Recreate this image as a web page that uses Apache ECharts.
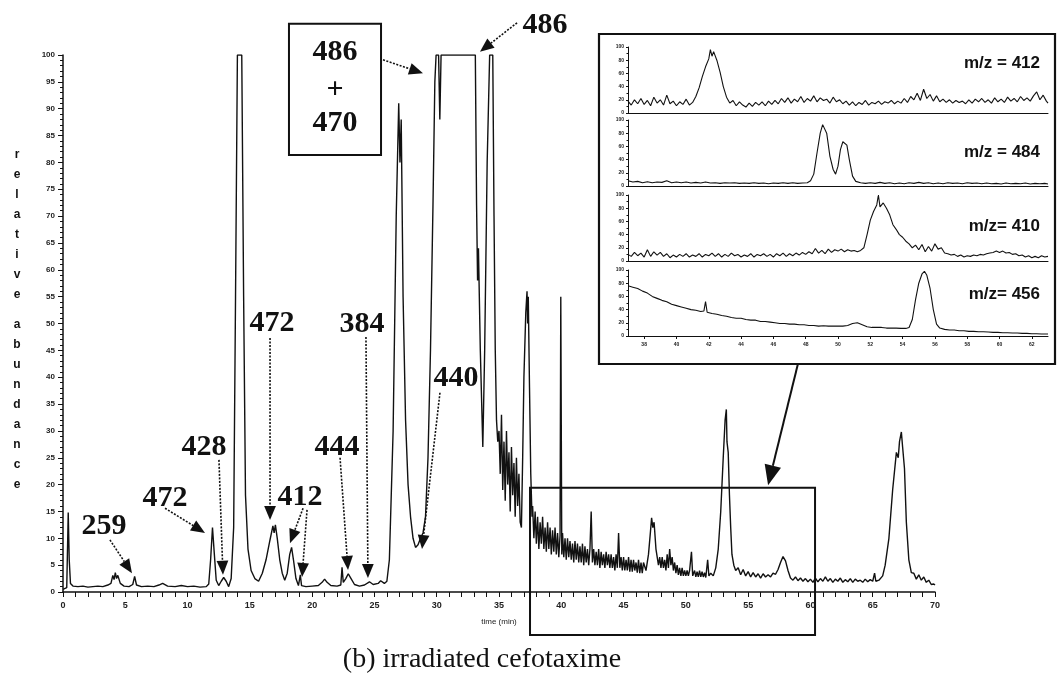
<!DOCTYPE html>
<html>
<head>
<meta charset="utf-8">
<title>(b) irradiated cefotaxime</title>
<script src="https://cdn.jsdelivr.net/npm/echarts@6/dist/echarts.min.js"></script>
<style>
  html, body { margin: 0; padding: 0; background: #fff; }
  #chart { width: 1058px; height: 679px; }
</style>
</head>
<body>
<div id="chart"></div>
<script>
// total ion current, [time (min), relative abundance]
var mainTrace = [
  [0,0.5],[0.3,0.8],[0.42,14.8],[0.5,6],[0.6,1.6],[0.8,1.1],[1.2,1.0],[1.6,1.1],[2.0,0.9],[2.4,1.0],
  [2.8,1.1],[3.2,1.0],[3.6,1.3],[3.85,1.6],[4.0,3.1],[4.1,2.3],[4.2,3.6],[4.3,2.5],[4.4,3.1],[4.6,1.6],
  [4.9,1.1],[5.3,1.0],[5.6,1.4],[5.75,2.9],[5.9,1.3],[6.3,1.0],[6.8,1.1],[7.3,1.0],[7.7,1.3],[8.0,1.6],
  [8.4,1.1],[9.0,1.0],[9.5,1.2],[10.0,1.0],[10.5,1.1],[11.0,0.9],[11.5,1.0],[11.7,1.5],[11.85,6],[12.0,12],
  [12.15,7],[12.3,2.2],[12.5,1.2],[12.7,2.0],[12.9,2.7],[13.1,2.0],[13.3,1.0],[13.5,2.5],[13.7,12],[13.85,55],
  [14.0,100],[14.35,100],[14.5,55],[14.65,18],[14.85,8],[15.1,4],[15.4,2.5],[15.7,2.0],[16.0,3.5],[16.3,6],
  [16.6,9.5],[16.85,12.3],[16.95,11],[17.05,12.5],[17.2,10],[17.4,6],[17.6,3.5],[17.8,2.2],[18.0,3.5],[18.2,7],
  [18.35,8.3],[18.5,6],[18.7,2.5],[18.9,1.2],[19.05,3.2],[19.15,1.2],[19.5,1.0],[20.0,1.1],[20.5,1.2],[20.8,1.8],
  [21.0,2.4],[21.2,1.8],[21.5,1.2],[22.0,1.1],[22.3,1.3],[22.4,4.6],[22.5,1.8],[22.7,2.5],[22.9,3.4],[23.1,2.6],
  [23.4,1.4],[23.8,1.1],[24.2,1.3],[24.6,1.9],[24.9,1.4],[25.3,1.6],[25.5,2.1],[25.8,1.6],[26.0,2.0],[26.2,6],
  [26.5,30],[26.75,70],[26.95,91],[27.05,80],[27.15,88],[27.3,55],[27.5,32],[27.7,20],[27.9,14],[28.1,10],
  [28.3,8.3],[28.5,8.8],[28.7,10],[28.9,11],[29.1,14],[29.3,25],[29.5,45],[29.7,72],[29.85,95],[29.95,100],
  [30.15,100],[30.25,88],[30.35,100],[33.1,100],[33.2,72],[33.28,58],[33.35,64],[33.5,45],[33.7,27],[33.85,45],
  [34.05,80],[34.25,100],[34.5,100],[34.6,70],[34.7,45],[34.8,32],[34.9,28],[35.0,30],[35.1,22],[35.2,33],
  [35.3,19],[35.4,28],[35.5,17],[35.6,30],[35.7,20],[35.8,26],[35.9,15],[36.0,27],[36.1,18],[36.2,24],
  [36.3,14],[36.4,25],[36.5,16],[36.6,22],[36.7,13],[36.8,12],[36.9,25],[37.0,40],[37.15,52],[37.25,56],
  [37.3,50],[37.35,55],[37.45,38],[37.55,22],[37.65,14],[37.7,16],[37.8,10],[37.9,15],[38.0,9],[38.1,14],
  [38.2,8],[38.3,13],[38.4,9],[38.5,14],[38.6,8],[38.7,12],[38.8,7.5],[38.9,13],[39.0,8],[39.1,12],
  [39.2,7],[39.3,11.5],[39.4,7.5],[39.5,12],[39.6,7],[39.7,11],[39.8,6.5],[39.9,10.5],[39.96,55],[40.04,7],
  [40.1,11],[40.2,6.5],[40.3,10],[40.4,6],[40.5,10],[40.6,6.5],[40.7,9.5],[40.8,6],[40.9,9],[41.0,5.5],
  [41.1,9.5],[41.2,6],[41.3,9],[41.4,5.5],[41.5,8.5],[41.6,5.5],[41.7,9],[41.8,5],[41.9,8.5],[42.0,5.5],
  [42.1,8],[42.2,5],[42.3,8],[42.4,15],[42.5,5.5],[42.6,8],[42.7,5],[42.8,7.5],[42.9,5],[43.0,8],
  [43.1,4.5],[43.2,7.5],[43.3,5],[43.4,7],[43.5,4.5],[43.6,7.5],[43.7,5],[43.8,7],[43.9,4.5],[44.0,7],
  [44.1,4.5],[44.2,6.5],[44.3,4],[44.4,7],[44.5,4.5],[44.6,11],[44.7,4.5],[44.8,6.5],[44.9,4],[45.0,6.5],
  [45.1,4],[45.2,6],[45.3,4],[45.4,6.5],[45.5,3.8],[45.6,6],[45.7,3.8],[45.8,6],[45.9,4],[46.0,5.5],
  [46.1,3.6],[46.2,6],[46.3,3.5],[46.4,5.5],[46.5,3.5],[46.6,5.5],[46.8,4],[47.0,7],[47.15,11],[47.25,13.8],
  [47.35,12],[47.45,13],[47.6,8],[47.8,5],[47.9,6.5],[48.0,4.5],[48.1,6.5],[48.2,4.5],[48.3,6],[48.4,4],
  [48.5,7],[48.6,4.5],[48.7,8],[48.8,5],[48.9,6.5],[49.0,4],[49.1,5.5],[49.2,3.5],[49.3,5],[49.4,3.2],
  [49.5,4.5],[49.6,3],[49.7,4.5],[49.8,3],[49.9,4],[50.0,3],[50.1,4],[50.2,3],[50.3,4],[50.45,7.5],
  [50.55,3],[50.7,4],[50.8,2.8],[50.9,3.8],[51.0,2.8],[51.1,4],[51.2,2.8],[51.3,3.8],[51.4,2.8],[51.5,3.6],
  [51.6,2.7],[51.75,6],[51.85,3],[52.0,3.5],[52.2,3],[52.4,4.5],[52.6,8],[52.8,15],[53.0,25],[53.15,32],
  [53.25,34],[53.3,28],[53.4,26],[53.5,18],[53.6,12],[53.7,7],[53.85,5],[54.0,4],[54.2,4.5],[54.4,3.2],
  [54.6,4.2],[54.8,3],[55.0,3.8],[55.2,2.8],[55.4,3.6],[55.6,2.8],[55.8,3.4],[56.0,2.6],[56.2,3.4],[56.4,2.8],
  [56.6,3.2],[56.8,2.8],[57.0,3.5],[57.2,3.3],[57.4,4.2],[57.6,5.5],[57.8,6.6],[57.9,6.9],[58.0,5.8],[58.2,4],
  [58.4,2.6],[58.6,2.2],[58.8,2.8],[59.0,2.1],[59.2,2.6],[59.4,2.0],[59.6,2.5],[59.8,1.9],[60.0,2.4],[60.2,1.8],
  [60.4,2.6],[60.6,1.9],[60.8,2.5],[61.0,2.0],[61.2,2.8],[61.4,2.0],[61.6,2.5],[61.8,1.8],[62.0,2.4],[62.2,2.0],
  [62.4,2.6],[62.6,1.8],[62.8,2.3],[63.0,1.9],[63.2,2.5],[63.4,1.8],[63.6,2.4],[63.8,2.0],[64.0,2.2],[64.2,1.8],
  [64.4,2.4],[64.6,1.9],[64.8,2.3],[65.0,2.0],[65.15,3.5],[65.25,2.0],[65.5,2.2],[65.8,3],[66.0,5],[66.3,10],
  [66.6,19],[66.9,26],[67.05,25],[67.15,28],[67.3,29.8],[67.4,27],[67.55,23],[67.7,13],[67.9,6],[68.1,3.6],
  [68.3,3.5],[68.5,2.4],[68.7,3.2],[68.9,2.2],[69.1,2.8],[69.3,1.8],[69.5,2.2],[69.7,1.4],[69.9,1.5],[70,1.3]
];

// extracted ion chromatograms of the boxed region
var mz412 = [
  [37.0,18],[37.2,12],[37.4,20],[37.6,14],[37.8,22],[38.0,13],[38.2,19],[38.4,11],[38.6,24],[38.8,15],
  [39.0,20],[39.2,12],[39.4,27],[39.6,14],[39.8,18],[40.0,11],[40.2,17],[40.4,13],[40.6,21],[40.8,12],
  [41.0,16],[41.2,25],[41.4,38],[41.6,55],[41.8,70],[42.0,82],[42.1,96],[42.2,86],[42.3,93],[42.5,80],
  [42.7,62],[42.9,40],[43.1,24],[43.3,15],[43.5,19],[43.7,11],[43.9,17],[44.1,12],[44.3,9],[44.5,15],
  [44.7,10],[44.9,16],[45.1,12],[45.3,17],[45.5,11],[45.7,18],[45.9,13],[46.1,19],[46.3,14],[46.5,22],
  [46.7,16],[46.9,23],[47.1,15],[47.3,21],[47.5,17],[47.7,25],[47.9,16],[48.1,22],[48.3,18],[48.5,26],
  [48.7,17],[48.9,23],[49.1,19],[49.3,21],[49.5,15],[49.7,24],[49.9,17],[50.1,20],[50.3,14],[50.5,18],
  [50.7,12],[50.9,17],[51.1,11],[51.3,16],[51.5,13],[51.7,19],[51.9,12],[52.1,16],[52.3,14],[52.5,18],
  [52.7,13],[52.9,17],[53.1,15],[53.3,19],[53.5,14],[53.7,18],[53.9,15],[54.1,22],[54.3,16],[54.5,25],
  [54.7,20],[54.9,30],[55.1,19],[55.3,36],[55.5,22],[55.7,28],[55.9,18],[56.1,26],[56.3,17],[56.5,21],
  [56.7,16],[56.9,20],[57.1,15],[57.3,19],[57.5,16],[57.7,18],[57.9,14],[58.1,20],[58.3,15],[58.5,21],
  [58.7,17],[58.9,22],[59.1,16],[59.3,20],[59.5,15],[59.7,23],[59.9,17],[60.1,21],[60.3,16],[60.5,24],
  [60.7,18],[60.9,22],[61.1,17],[61.3,25],[61.5,19],[61.7,23],[61.9,18],[62.1,26],[62.3,32],[62.5,20],
  [62.7,27],[62.9,18],[63.0,15]
];
var mz484 = [
  [37.0,8],[37.3,6],[37.6,7],[37.9,5],[38.2,6.5],[38.5,5],[38.8,6],[39.1,5.5],[39.4,8],[39.7,5],
  [40.0,6],[40.3,5],[40.6,6],[40.9,4.5],[41.2,5.5],[41.5,4.5],[41.8,6],[42.1,4.5],[42.4,5],[42.7,4],
  [43.0,5],[43.3,4.5],[43.6,5],[43.9,4],[44.2,4.5],[44.5,4],[44.8,5],[45.1,4],[45.4,4.5],[45.7,3.5],
  [46.0,4.5],[46.3,4],[46.6,5],[46.9,4],[47.2,5],[47.5,4],[47.8,4.5],[48.1,5],[48.3,8],[48.5,18],
  [48.7,50],[48.9,80],[49.05,93],[49.15,96],[49.3,80],[49.5,45],[49.7,25],[49.85,18],[50.0,30],[50.15,55],
  [50.3,67],[50.4,70],[50.55,62],[50.7,40],[50.9,15],[51.1,7],[51.4,5],[51.7,4],[52.0,5],[52.3,4],
  [52.6,5.5],[52.9,4],[53.2,5],[53.5,3.5],[53.8,4.5],[54.1,3.5],[54.4,5],[54.7,4],[55.0,5.5],[55.3,4],
  [55.6,5],[55.9,3.5],[56.2,4.5],[56.5,3.5],[56.8,5],[57.1,4],[57.4,4.5],[57.7,3.5],[58.0,5],[58.3,4],
  [58.6,4.5],[58.9,3.5],[59.2,4.5],[59.5,3.5],[59.8,4],[60.1,3],[60.4,4.5],[60.7,3.5],[61.0,4],[61.3,3.5],
  [61.6,4.5],[61.9,3],[62.2,4],[62.5,3.5],[62.8,4],[63.0,3]
];
var mz410 = [
  [37.0,10],[37.2,7],[37.4,13],[37.6,8],[37.8,12],[38.0,6],[38.2,17],[38.4,7],[38.6,14],[38.8,9],
  [39.0,13],[39.2,7],[39.4,11],[39.6,5],[39.8,9],[40.0,6],[40.2,10],[40.4,7],[40.6,11],[40.8,6],
  [41.0,9],[41.2,7],[41.4,11],[41.6,6],[41.8,10],[42.0,8],[42.2,12],[42.4,7],[42.6,11],[42.8,6],
  [43.0,10],[43.2,7],[43.4,12],[43.6,8],[43.8,10],[44.0,6],[44.2,9],[44.4,7],[44.6,11],[44.8,6],
  [45.0,10],[45.2,8],[45.4,11],[45.6,7],[45.8,10],[46.0,6],[46.2,11],[46.4,8],[46.6,12],[46.8,7],
  [47.0,11],[47.2,8],[47.4,12],[47.6,9],[47.8,13],[48.0,10],[48.2,14],[48.4,11],[48.6,19],[48.8,12],
  [49.0,16],[49.2,11],[49.4,18],[49.6,13],[49.8,17],[50.0,15],[50.2,18],[50.4,14],[50.6,17],[50.8,15],
  [51.0,16],[51.2,14],[51.4,16],[51.6,20],[51.8,40],[52.0,62],[52.2,75],[52.4,85],[52.5,100],[52.6,82],
  [52.8,88],[53.0,80],[53.2,70],[53.4,55],[53.6,48],[53.8,40],[54.0,36],[54.2,30],[54.4,26],[54.6,20],
  [54.8,24],[55.0,17],[55.2,25],[55.4,14],[55.6,22],[55.8,15],[56.0,26],[56.2,18],[56.4,20],[56.6,12],
  [56.8,11],[57.0,9],[57.2,10],[57.4,7],[57.6,9],[57.8,6],[58.0,8],[58.2,7],[58.4,9],[58.6,8],
  [58.8,10],[59.0,9],[59.2,11],[59.4,12],[59.6,13],[59.8,15],[60.0,13],[60.2,15],[60.4,12],[60.6,13],
  [60.8,10],[61.0,11],[61.2,8],[61.4,9],[61.6,6],[61.8,8],[62.0,5],[62.2,7],[62.4,5],[62.6,8],
  [62.8,6],[63.0,7]
];
var mz456 = [
  [37.0,76],[37.3,74],[37.6,72],[37.9,68],[38.2,65],[38.5,60],[38.8,57],[39.1,54],[39.4,52],[39.7,48],
  [40.0,46],[40.3,44],[40.6,42],[40.9,40],[41.2,39],[41.5,37],[41.7,38],[41.8,52],[41.9,36],[42.2,34],
  [42.5,33],[42.8,31],[43.1,30],[43.4,28],[43.7,27],[44.0,27],[44.3,25],[44.6,24],[44.9,24],[45.2,22],
  [45.5,22],[45.8,21],[46.1,20],[46.4,19],[46.7,19],[47.0,18],[47.3,18],[47.6,17],[47.9,17],[48.2,16],
  [48.5,16],[48.8,15],[49.1,15.5],[49.4,15],[49.7,15],[50.0,15],[50.3,15],[50.6,16],[50.9,19],[51.2,20],
  [51.5,17],[51.8,14],[52.1,13],[52.4,13],[52.5,15],[52.7,13],[53.0,12],[53.3,12],[53.6,12],[53.9,11.5],
  [54.2,11.5],[54.4,13],[54.6,25],[54.8,55],[55.0,80],[55.2,94],[55.35,98],[55.5,92],[55.7,72],[55.9,40],
  [56.1,18],[56.3,12],[56.6,10],[56.9,9],[57.2,9],[57.5,8],[57.8,8],[58.1,7],[58.4,7],[58.7,6.5],
  [59.0,6.5],[59.3,6],[59.6,5.5],[59.9,5.5],[60.2,5],[60.5,5],[60.8,4.5],[61.1,4.5],[61.4,4],[61.7,4],
  [62.0,3.5],[62.3,3.5],[62.6,3],[63.0,3]
];
var insetSeries = [mz412, mz484, mz410, mz456];
var insetNames = ['m/z = 412', 'm/z = 484', 'm/z= 410', 'm/z= 456'];
var insetTicks = [38, 40, 42, 44, 46, 48, 50, 52, 54, 56, 58, 60, 62];

// peak labels: [text, time, abundance] (label centre)
var peakLabels = [
  ['259', 3.29, 12.3], ['472', 8.19, 17.5], ['428', 11.32, 27.0], ['472', 16.78, 50.1],
  ['412', 19.03, 17.7], ['444', 22.0, 27.0], ['384', 24.0, 49.9], ['440', 31.55, 39.85],
  ['486', 38.69, 105.6]
];
// dotted arrows: [fromTime, fromAbund, tipTime, tipAbund]
var peakArrows = [
  [3.77, 9.7, 5.54, 3.5], [8.19, 15.6, 11.4, 11.0], [12.52, 24.6, 12.84, 3.2],
  [16.62, 47.3, 16.62, 13.4], [19.27, 15.6, 18.22, 9.1], [19.59, 15.3, 19.19, 2.8],
  [22.24, 25.0, 22.88, 4.1], [24.32, 47.5, 24.48, 2.6], [30.26, 37.1, 28.82, 8.0],
  [25.69, 99.1, 28.9, 96.6], [36.45, 106.0, 33.47, 100.6]
];
// boxed "486 + 470" label and the zoomed region
var comboBox = [18.14, 105.8, 25.53, 81.4];
var comboText = [['486', 21.84, 100.6], ['+', 21.84, 93.5], ['470', 21.84, 87.2]];
var zoomRegion = [37.49, 19.4, 60.37, -8.0];
var zoomArrow = [59.0, 42.5, 56.6, 19.9];

var chart = echarts.init(document.getElementById('chart'));

var tickFont = { fontFamily: 'Liberation Sans', fontWeight: 'bold', color: '#222' };
var insetTop = [47, 120, 195, 270];

var grids = [{ left: 63, top: 55, width: 872, height: 537 }];
var xAxes = [{
  type: 'value', min: 0, max: 70, interval: 5, gridIndex: 0,
  name: 'time (min)', nameLocation: 'middle', nameGap: 26,
  nameTextStyle: { fontSize: 8, fontFamily: 'Liberation Sans', color: '#222' },
  axisLine: { lineStyle: { color: '#111', width: 1.5 } },
  axisTick: { length: 5, lineStyle: { color: '#111' } },
  minorTick: { show: true, splitNumber: 5, length: 5, lineStyle: { color: '#111' } },
  splitLine: { show: false },
  axisLabel: Object.assign({ fontSize: 9, margin: 9 }, tickFont)
}];
var yAxes = [{
  type: 'value', min: 0, max: 100, interval: 5, gridIndex: 0,
  axisLine: { show: true, lineStyle: { color: '#111', width: 1.5 } },
  axisTick: { show: true, length: 5, lineStyle: { color: '#111' } },
  minorTick: { show: true, splitNumber: 5, length: 3, lineStyle: { color: '#111' } },
  splitLine: { show: false },
  axisLabel: Object.assign({ fontSize: 8, margin: 8 }, tickFont)
}];
var series = [{
  type: 'line', xAxisIndex: 0, yAxisIndex: 0, data: mainTrace,
  showSymbol: false, lineStyle: { color: '#111', width: 1.4 }, z: 3
}];

insetSeries.forEach(function (d, i) {
  var last = i === insetSeries.length - 1;
  grids.push({ left: 628, top: insetTop[i], width: 420, height: 66 });
  xAxes.push({
    type: 'value', min: 37, max: 63, gridIndex: i + 1,
    axisLine: { lineStyle: { color: '#111', width: 1 } },
    axisTick: { show: last, length: 3, customValues: insetTicks, lineStyle: { color: '#111' } },
    splitLine: { show: false },
    axisLabel: Object.assign({ show: last, fontSize: 5, margin: 6, customValues: insetTicks }, tickFont)
  });
  yAxes.push({
    type: 'value', min: 0, max: 100, interval: 20, gridIndex: i + 1,
    axisLine: { show: true, lineStyle: { color: '#111', width: 1 } },
    axisTick: { show: true, length: 2, lineStyle: { color: '#111' } },
    minorTick: { show: true, splitNumber: 2, length: 1.5, lineStyle: { color: '#111' } },
    splitLine: { show: false },
    axisLabel: Object.assign({ fontSize: 5, margin: 4 }, tickFont)
  });
  series.push({
    type: 'line', xAxisIndex: i + 1, yAxisIndex: i + 1, data: d,
    showSymbol: false, lineStyle: { color: '#111', width: 1.1 }
  });
});

chart.setOption({
  backgroundColor: '#fff',
  animation: false,
  grid: grids,
  xAxis: xAxes,
  yAxis: yAxes,
  series: series
});

function px(t, v) {
  return chart.convertToPixel({ gridIndex: 0 }, [t, v]);
}

function arrow(a, dotted, head) {
  var p0 = px(a[0], a[1]), p1 = px(a[2], a[3]);
  var dx = p1[0] - p0[0], dy = p1[1] - p0[1];
  var len = Math.sqrt(dx * dx + dy * dy);
  var ux = dx / len, uy = dy / len;
  var hl = head || 14, hw = hl * 0.42;
  var bx = p1[0] - ux * hl, by = p1[1] - uy * hl;
  return [{
    type: 'line', z: 10,
    shape: { x1: p0[0], y1: p0[1], x2: bx, y2: by },
    style: { stroke: '#111', lineWidth: dotted ? 1.6 : 2, lineDash: dotted ? [2, 1.5] : null }
  }, {
    type: 'polygon', z: 10,
    shape: { points: [[p1[0], p1[1]], [bx - uy * hw, by + ux * hw], [bx + uy * hw, by - ux * hw]] },
    style: { fill: '#111' }
  }];
}

function label(t, x, y, size) {
  return {
    type: 'text', z: 10, x: x, y: y,
    style: {
      text: t, fill: '#111', align: 'center', verticalAlign: 'middle',
      font: 'bold ' + (size || 30) + 'px "Liberation Serif"'
    }
  };
}

var g = [];
peakLabels.forEach(function (p) {
  var q = px(p[1], p[2]);
  g.push(label(p[0], q[0], q[1]));
});
peakArrows.forEach(function (a) { g = g.concat(arrow(a, true)); });

var b0 = px(comboBox[0], comboBox[1]), b1 = px(comboBox[2], comboBox[3]);
g.push({
  type: 'rect', z: 10,
  shape: { x: b0[0], y: b0[1], width: b1[0] - b0[0], height: b1[1] - b0[1] },
  style: { fill: '#fff', stroke: '#111', lineWidth: 2 }
});
comboText.forEach(function (c) {
  var q = px(c[1], c[2]);
  g.push(label(c[0], q[0], q[1]));
});

var r0 = px(zoomRegion[0], zoomRegion[1]), r1 = px(zoomRegion[2], zoomRegion[3]);
g.push({
  type: 'rect', z: 10,
  shape: { x: r0[0], y: r0[1], width: r1[0] - r0[0], height: r1[1] - r0[1] },
  style: { fill: null, stroke: '#111', lineWidth: 2 }
});
g = g.concat(arrow(zoomArrow, false, 20));

// inset frame and its m/z labels
g.push({
  type: 'rect', z: 10,
  shape: { x: 599, y: 34, width: 456, height: 330 },
  style: { fill: null, stroke: '#111', lineWidth: 2.2 }
});
var nameY = [63, 152, 226, 294];
insetNames.forEach(function (n, i) {
  g.push({
    type: 'text', z: 10, x: 1040, y: nameY[i],
    style: { text: n, fill: '#111', align: 'right', verticalAlign: 'middle',
             font: 'bold 17px "Liberation Sans"' }
  });
});

// stacked y-axis name and caption
g.push({
  type: 'text', z: 10, x: 17, y: 145,
  style: { text: 'relative'.split('').join('\n'), fill: '#111', align: 'center',
           font: 'bold 12px "Liberation Sans"', lineHeight: 20, verticalAlign: 'top' }
});
g.push({
  type: 'text', z: 10, x: 17, y: 315,
  style: { text: 'abundance'.split('').join('\n'), fill: '#111', align: 'center',
           font: 'bold 12px "Liberation Sans"', lineHeight: 20, verticalAlign: 'top' }
});
g.push({
  type: 'text', z: 10, x: 482, y: 660,
  style: { text: '(b) irradiated cefotaxime', fill: '#111', align: 'center',
           verticalAlign: 'middle', font: '28px "Liberation Serif"' }
});

chart.setOption({ graphic: g });
</script>
</body>
</html>
